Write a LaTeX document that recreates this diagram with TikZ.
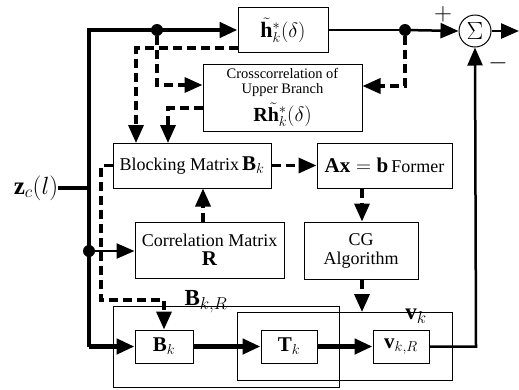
\documentclass[tikz,border=0pt]{standalone}
\usepackage{fontspec}
\setmainfont{Liberation Serif}
\usetikzlibrary{arrows.meta}
\begin{document}
\begin{tikzpicture}[x=1pt,y=-1pt,
  box/.style={draw,line width=1pt,inner sep=1pt,align=center,font=\fontsize{18}{19}\selectfont},
  thick line/.style={line width=4.5pt},
  thin line/.style={line width=2.5pt},
  dash line/.style={line width=3.5pt,dash pattern=on 9pt off 5pt},
  tip/.style={-{Triangle[length=18pt,width=15pt]}},
  dotn/.style={circle,fill,inner sep=0pt,minimum size=12pt}]
\useasboundingbox (0,0) rectangle (519,389);
% boxes
\node[box,minimum width=90pt,minimum height=45pt,font=\fontsize{22}{22}\selectfont] (h) at (283,30) {$\tilde{\mathbf{h}}{}_k^{*}(\delta)$};
\node[box,minimum width=159pt,minimum height=67pt,font=\fontsize{14.5}{15}\selectfont] (cross) at (282.5,97.5) {Crosscorrelation of\\Upper Branch\\[5pt]{\fontsize{20}{20}\selectfont$\mathbf{R}\tilde{\mathbf{h}}{}_k^{*}(\delta)$}};
\node[box,minimum width=158pt,minimum height=45pt] (block) at (192,165.5) {Blocking Matrix\,{\fontsize{21}{21}\selectfont$\mathbf{B}_k$}};
\node[box,minimum width=135pt,minimum height=45pt] (axb) at (384.5,165.5) {{\fontsize{21}{21}\selectfont$\mathbf{Ax}=\mathbf{b}$}\,Former};
\node[box,minimum width=149pt,minimum height=56pt] (corr) at (209.5,250) {Correlation Matrix\\{\fontsize{21}{21}\selectfont$\mathbf{R}$}};
\node[box,minimum width=114pt,minimum height=57pt] (cg) at (361,250.5) {CG\\Algorithm};
\draw[line width=1pt] (113,306) rectangle (339,387);
\draw[line width=1pt] (237,312) rectangle (452,380);
\node[box,minimum width=58pt,minimum height=33pt,font=\fontsize{21}{21}\selectfont] (bk) at (164,346.5) {$\mathbf{B}_k$};
\node[box,minimum width=56pt,minimum height=33pt,font=\fontsize{21}{21}\selectfont] (tk) at (289,346.5) {$\mathbf{T}_k$};
\node[box,minimum width=56pt,minimum height=33pt,font=\fontsize{21}{21}\selectfont] (vkr) at (401,346.5) {$\mathbf{v}_{k,R}$};
\node[draw,circle,line width=1pt,minimum size=32pt,inner sep=0pt,font=\fontsize{23}{23}\selectfont] (sum) at (475,31) {$\Sigma$};
% labels
\node[font=\fontsize{25}{25}\selectfont,inner sep=0pt] (zc) at (36,188) {$\mathbf{z}_c(l)$};
\node[font=\fontsize{23}{23}\selectfont,inner sep=0pt] (lbkr) at (206,302) {$\mathbf{B}_{k,R}$};
\node[font=\fontsize{23}{23}\selectfont,inner sep=0pt] (lvk) at (416,316) {$\mathbf{v}_k$};
\node[font=\fontsize{24}{24}\selectfont,inner sep=0pt] (plus) at (443,14) {$+$};
\node[font=\fontsize{24}{24}\selectfont,inner sep=0pt] (minus) at (498,63) {$-$};
% junctions
\coordinate (jtop) at (89,30);
\coordinate (jbot) at (89,346.5);
\node[dotn] (d1) at (157,30) {};
\node[dotn] (d2) at (405,30) {};
\node[dotn] (d3) at (89,251) {};
\coordinate (out) at (519,31);
% thick main paths
\draw[thick line] (zc.east) -- (89,188);
\draw[thick line] (89,27.75) -- (jbot);
\draw[thick line,tip] (jtop) -- (h.west);
\draw[thick line,tip] (jbot) -- (bk.west);
\draw[thick line,tip] (bk.east) -- (tk.west);
\draw[thick line,tip] (tk.east) -- (vkr.west);
\draw[thin line,tip] (d3) -- (corr.west |- d3);
% upper right
\draw[thin line] (h.east) -- (d2);
\draw[thin line,tip] (d2) -- (sum.west);
\draw[thin line,tip] (sum.east) -- (out);
\draw[thin line,tip] (vkr.east) -- (476,346.5) -- (sum.south);
% dashed
\draw[dash line,tip] (h.west |- 0,48) -- (136,48) -- (136,143);
\draw[dash line,tip] (d1) -- (157,85) -- (cross.west |- 0,85);
\draw[dash line,tip] (cross.west |- 0,108) -- (168,108) -- (168,143);
\draw[dash line,tip] (d2) -- (405,86) -- (cross.east |- 0,86);
\draw[dash line,tip] (block.east) -- (axb.west);
\draw[dash line,tip] (corr.north -| 203,0) -- (block.south -| 203,0);
\draw[dash line,tip] (axb.south -| 362,0) -- (cg.north -| 362,0);
\draw[dash line,tip] (cg.south -| 362,0) -- (362,312);
\draw[dash line,tip] (block.west) -- (101,165.5) -- (101,300) -- (164,300) -- (bk.north);
\end{tikzpicture}
\end{document}
